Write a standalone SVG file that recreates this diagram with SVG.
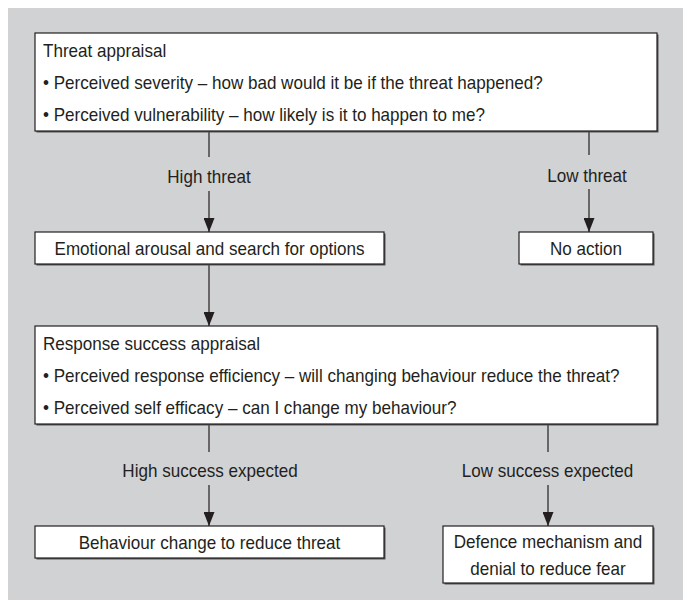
<svg xmlns="http://www.w3.org/2000/svg" width="683" height="600" viewBox="0 0 683 600">
<style>
.box{fill:#fff;stroke:#231f20;stroke-width:1.2}
.sh{fill:#555}
.t{font-family:"Liberation Sans",Arial,sans-serif;font-size:18.5px;fill:#231f20}
.c{text-anchor:middle}
.ln{stroke:#231f20;stroke-width:1.2;fill:none}
</style>
<defs>
<marker id="ah" viewBox="0 0 14 11" refX="14" refY="5.5" markerWidth="14" markerHeight="11" markerUnits="userSpaceOnUse" orient="auto">
<path d="M0,0 L14,5.5 L0,11 z" fill="#231f20"/>
</marker>
</defs>
<rect x="8" y="8" width="675" height="592" fill="#d1d2d4"/>
<g id="connectors">
<line class="ln" x1="209" y1="131" x2="209" y2="157"/>
<line class="ln" x1="209" y1="191" x2="209" y2="232" marker-end="url(#ah)"/>
<line class="ln" x1="589" y1="131" x2="589" y2="155"/>
<line class="ln" x1="589" y1="189" x2="589" y2="232" marker-end="url(#ah)"/>
<line class="ln" x1="209" y1="264" x2="209" y2="326" marker-end="url(#ah)"/>
<line class="ln" x1="209" y1="424" x2="209" y2="452"/>
<line class="ln" x1="209" y1="485" x2="209" y2="526" marker-end="url(#ah)"/>
<line class="ln" x1="548" y1="424" x2="548" y2="452"/>
<line class="ln" x1="548" y1="485" x2="548" y2="526" marker-end="url(#ah)"/>
<text class="t c" x="209" y="183" textLength="83.4" lengthAdjust="spacingAndGlyphs">High threat</text>
<text class="t c" x="587" y="182" textLength="79.6" lengthAdjust="spacingAndGlyphs">Low threat</text>
<text class="t c" x="210" y="476.5" textLength="175.3" lengthAdjust="spacingAndGlyphs">High success expected</text>
<text class="t c" x="547.5" y="476.5" textLength="171.5" lengthAdjust="spacingAndGlyphs">Low success expected</text>
</g>
<g id="threat-appraisal">
<rect class="sh" x="36.5" y="34.5" width="622" height="98"/>
<rect class="box" x="35" y="33" width="622" height="98"/>
<text class="t" x="43" y="57" textLength="123.2" lengthAdjust="spacingAndGlyphs">Threat appraisal</text>
<text class="t" x="43" y="89" textLength="499.7" lengthAdjust="spacingAndGlyphs">• Perceived severity – how bad would it be if the threat happened?</text>
<text class="t" x="43" y="121" textLength="441.9" lengthAdjust="spacingAndGlyphs">• Perceived vulnerability – how likely is it to happen to me?</text>
</g>
<g id="emotional-arousal">
<rect class="sh" x="36.5" y="233.5" width="349" height="32"/>
<rect class="box" x="35" y="232" width="349" height="32"/>
<text class="t c" x="209.5" y="254.7" textLength="309.9" lengthAdjust="spacingAndGlyphs">Emotional arousal and search for options</text>
</g>
<g id="no-action">
<rect class="sh" x="520.5" y="233.5" width="134" height="32"/>
<rect class="box" x="519" y="232" width="134" height="32"/>
<text class="t c" x="586" y="254.7" textLength="72" lengthAdjust="spacingAndGlyphs">No action</text>
</g>
<g id="response-appraisal">
<rect class="sh" x="36.5" y="327.5" width="622" height="98"/>
<rect class="box" x="35" y="326" width="622" height="98"/>
<text class="t" x="43" y="350" textLength="217" lengthAdjust="spacingAndGlyphs">Response success appraisal</text>
<text class="t" x="43" y="382" textLength="576.5" lengthAdjust="spacingAndGlyphs">• Perceived response efficiency – will changing behaviour reduce the threat?</text>
<text class="t" x="43" y="414" textLength="413.5" lengthAdjust="spacingAndGlyphs">• Perceived self efficacy – can I change my behaviour?</text>
</g>
<g id="behaviour-change">
<rect class="sh" x="36.5" y="527.5" width="349" height="32"/>
<rect class="box" x="35" y="526" width="349" height="32"/>
<text class="t c" x="209.5" y="548.7" textLength="261.6" lengthAdjust="spacingAndGlyphs">Behaviour change to reduce threat</text>
</g>
<g id="defence-mechanism">
<rect class="sh" x="444.5" y="527.5" width="210" height="57"/>
<rect class="box" x="443" y="526" width="210" height="57"/>
<text class="t c" x="548" y="548.3" textLength="188.6" lengthAdjust="spacingAndGlyphs">Defence mechanism and</text>
<text class="t c" x="548" y="575" textLength="155.4" lengthAdjust="spacingAndGlyphs">denial to reduce fear</text>
</g>
</svg>
